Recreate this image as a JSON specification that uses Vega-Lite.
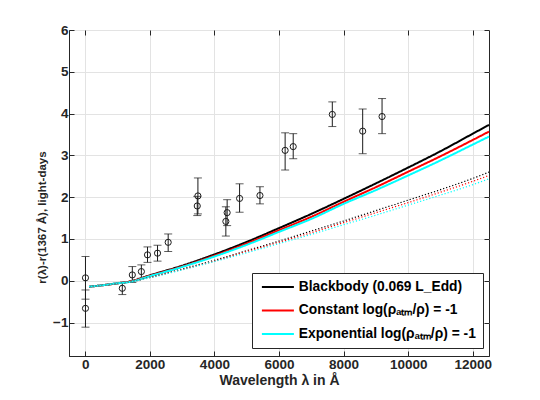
{
  "$schema": "https://vega.github.io/schema/vega-lite/v6.json",
  "width": 420,
  "height": 326,
  "autosize": {"type": "none"},
  "padding": {"left": 69, "top": 30, "right": 51, "bottom": 44},
  "background": "white",
  "config": {
    "font": "Liberation Sans",
    "view": {"stroke": "#262626", "strokeWidth": 1},
    "axis": {
      "labelFont": "Liberation Sans",
      "labelFontWeight": "bold",
      "labelFontSize": 13.5,
      "labelColor": "#262626",
      "titleFont": "Liberation Sans",
      "titleFontWeight": "bold",
      "titleFontSize": 14,
      "titleColor": "#262626",
      "domainColor": "#262626",
      "tickColor": "#262626",
      "tickSize": -5,
      "gridColor": "#e3e3e3",
      "labelFlush": false,
      "labelOverlap": false
    }
  },
  "datasets": {
    "curves": [
      {"lambda": 120, "r": -0.14, "model": "Blackbody (0.069 L_Edd)", "kind": "solid"},
      {"lambda": 500, "r": -0.11, "model": "Blackbody (0.069 L_Edd)", "kind": "solid"},
      {"lambda": 1000, "r": -0.06, "model": "Blackbody (0.069 L_Edd)", "kind": "solid"},
      {"lambda": 1367, "r": -0.02, "model": "Blackbody (0.069 L_Edd)", "kind": "solid"},
      {"lambda": 2000, "r": 0.13, "model": "Blackbody (0.069 L_Edd)", "kind": "solid"},
      {"lambda": 3000, "r": 0.36, "model": "Blackbody (0.069 L_Edd)", "kind": "solid"},
      {"lambda": 4000, "r": 0.63, "model": "Blackbody (0.069 L_Edd)", "kind": "solid"},
      {"lambda": 5000, "r": 0.93, "model": "Blackbody (0.069 L_Edd)", "kind": "solid"},
      {"lambda": 6000, "r": 1.26, "model": "Blackbody (0.069 L_Edd)", "kind": "solid"},
      {"lambda": 7000, "r": 1.60, "model": "Blackbody (0.069 L_Edd)", "kind": "solid"},
      {"lambda": 8000, "r": 1.96, "model": "Blackbody (0.069 L_Edd)", "kind": "solid"},
      {"lambda": 9000, "r": 2.33, "model": "Blackbody (0.069 L_Edd)", "kind": "solid"},
      {"lambda": 10000, "r": 2.71, "model": "Blackbody (0.069 L_Edd)", "kind": "solid"},
      {"lambda": 11000, "r": 3.10, "model": "Blackbody (0.069 L_Edd)", "kind": "solid"},
      {"lambda": 12000, "r": 3.52, "model": "Blackbody (0.069 L_Edd)", "kind": "solid"},
      {"lambda": 12500, "r": 3.73, "model": "Blackbody (0.069 L_Edd)", "kind": "solid"},

      {"lambda": 120, "r": -0.14, "model": "Constant log(ρₐₜₘ/ρ) = -1", "kind": "solid"},
      {"lambda": 500, "r": -0.11, "model": "Constant log(ρₐₜₘ/ρ) = -1", "kind": "solid"},
      {"lambda": 1000, "r": -0.06, "model": "Constant log(ρₐₜₘ/ρ) = -1", "kind": "solid"},
      {"lambda": 1367, "r": -0.02, "model": "Constant log(ρₐₜₘ/ρ) = -1", "kind": "solid"},
      {"lambda": 2000, "r": 0.12, "model": "Constant log(ρₐₜₘ/ρ) = -1", "kind": "solid"},
      {"lambda": 3000, "r": 0.34, "model": "Constant log(ρₐₜₘ/ρ) = -1", "kind": "solid"},
      {"lambda": 4000, "r": 0.60, "model": "Constant log(ρₐₜₘ/ρ) = -1", "kind": "solid"},
      {"lambda": 5000, "r": 0.89, "model": "Constant log(ρₐₜₘ/ρ) = -1", "kind": "solid"},
      {"lambda": 6000, "r": 1.21, "model": "Constant log(ρₐₜₘ/ρ) = -1", "kind": "solid"},
      {"lambda": 7000, "r": 1.53, "model": "Constant log(ρₐₜₘ/ρ) = -1", "kind": "solid"},
      {"lambda": 8000, "r": 1.89, "model": "Constant log(ρₐₜₘ/ρ) = -1", "kind": "solid"},
      {"lambda": 9000, "r": 2.24, "model": "Constant log(ρₐₜₘ/ρ) = -1", "kind": "solid"},
      {"lambda": 10000, "r": 2.61, "model": "Constant log(ρₐₜₘ/ρ) = -1", "kind": "solid"},
      {"lambda": 11000, "r": 2.98, "model": "Constant log(ρₐₜₘ/ρ) = -1", "kind": "solid"},
      {"lambda": 12000, "r": 3.37, "model": "Constant log(ρₐₜₘ/ρ) = -1", "kind": "solid"},
      {"lambda": 12500, "r": 3.57, "model": "Constant log(ρₐₜₘ/ρ) = -1", "kind": "solid"},

      {"lambda": 120, "r": -0.14, "model": "Exponential log(ρₐₜₘ/ρ) = -1", "kind": "solid"},
      {"lambda": 500, "r": -0.11, "model": "Exponential log(ρₐₜₘ/ρ) = -1", "kind": "solid"},
      {"lambda": 1000, "r": -0.06, "model": "Exponential log(ρₐₜₘ/ρ) = -1", "kind": "solid"},
      {"lambda": 1367, "r": -0.03, "model": "Exponential log(ρₐₜₘ/ρ) = -1", "kind": "solid"},
      {"lambda": 2000, "r": 0.11, "model": "Exponential log(ρₐₜₘ/ρ) = -1", "kind": "solid"},
      {"lambda": 3000, "r": 0.33, "model": "Exponential log(ρₐₜₘ/ρ) = -1", "kind": "solid"},
      {"lambda": 4000, "r": 0.58, "model": "Exponential log(ρₐₜₘ/ρ) = -1", "kind": "solid"},
      {"lambda": 5000, "r": 0.86, "model": "Exponential log(ρₐₜₘ/ρ) = -1", "kind": "solid"},
      {"lambda": 6000, "r": 1.17, "model": "Exponential log(ρₐₜₘ/ρ) = -1", "kind": "solid"},
      {"lambda": 7000, "r": 1.48, "model": "Exponential log(ρₐₜₘ/ρ) = -1", "kind": "solid"},
      {"lambda": 8000, "r": 1.84, "model": "Exponential log(ρₐₜₘ/ρ) = -1", "kind": "solid"},
      {"lambda": 9000, "r": 2.17, "model": "Exponential log(ρₐₜₘ/ρ) = -1", "kind": "solid"},
      {"lambda": 10000, "r": 2.52, "model": "Exponential log(ρₐₜₘ/ρ) = -1", "kind": "solid"},
      {"lambda": 11000, "r": 2.88, "model": "Exponential log(ρₐₜₘ/ρ) = -1", "kind": "solid"},
      {"lambda": 12000, "r": 3.26, "model": "Exponential log(ρₐₜₘ/ρ) = -1", "kind": "solid"},
      {"lambda": 12500, "r": 3.45, "model": "Exponential log(ρₐₜₘ/ρ) = -1", "kind": "solid"},

      {"lambda": 120, "r": -0.14, "model": "Blackbody (0.069 L_Edd)", "kind": "dotted"},
      {"lambda": 500, "r": -0.11, "model": "Blackbody (0.069 L_Edd)", "kind": "dotted"},
      {"lambda": 1000, "r": -0.07, "model": "Blackbody (0.069 L_Edd)", "kind": "dotted"},
      {"lambda": 1367, "r": -0.03, "model": "Blackbody (0.069 L_Edd)", "kind": "dotted"},
      {"lambda": 2000, "r": 0.08, "model": "Blackbody (0.069 L_Edd)", "kind": "dotted"},
      {"lambda": 3000, "r": 0.28, "model": "Blackbody (0.069 L_Edd)", "kind": "dotted"},
      {"lambda": 4000, "r": 0.49, "model": "Blackbody (0.069 L_Edd)", "kind": "dotted"},
      {"lambda": 5000, "r": 0.72, "model": "Blackbody (0.069 L_Edd)", "kind": "dotted"},
      {"lambda": 6000, "r": 0.95, "model": "Blackbody (0.069 L_Edd)", "kind": "dotted"},
      {"lambda": 7000, "r": 1.19, "model": "Blackbody (0.069 L_Edd)", "kind": "dotted"},
      {"lambda": 8000, "r": 1.43, "model": "Blackbody (0.069 L_Edd)", "kind": "dotted"},
      {"lambda": 9000, "r": 1.68, "model": "Blackbody (0.069 L_Edd)", "kind": "dotted"},
      {"lambda": 10000, "r": 1.93, "model": "Blackbody (0.069 L_Edd)", "kind": "dotted"},
      {"lambda": 11000, "r": 2.18, "model": "Blackbody (0.069 L_Edd)", "kind": "dotted"},
      {"lambda": 12000, "r": 2.45, "model": "Blackbody (0.069 L_Edd)", "kind": "dotted"},
      {"lambda": 12500, "r": 2.60, "model": "Blackbody (0.069 L_Edd)", "kind": "dotted"},

      {"lambda": 120, "r": -0.14, "model": "Constant log(ρₐₜₘ/ρ) = -1", "kind": "dotted"},
      {"lambda": 500, "r": -0.11, "model": "Constant log(ρₐₜₘ/ρ) = -1", "kind": "dotted"},
      {"lambda": 1000, "r": -0.07, "model": "Constant log(ρₐₜₘ/ρ) = -1", "kind": "dotted"},
      {"lambda": 1367, "r": -0.03, "model": "Constant log(ρₐₜₘ/ρ) = -1", "kind": "dotted"},
      {"lambda": 2000, "r": 0.08, "model": "Constant log(ρₐₜₘ/ρ) = -1", "kind": "dotted"},
      {"lambda": 3000, "r": 0.27, "model": "Constant log(ρₐₜₘ/ρ) = -1", "kind": "dotted"},
      {"lambda": 4000, "r": 0.47, "model": "Constant log(ρₐₜₘ/ρ) = -1", "kind": "dotted"},
      {"lambda": 5000, "r": 0.70, "model": "Constant log(ρₐₜₘ/ρ) = -1", "kind": "dotted"},
      {"lambda": 6000, "r": 0.92, "model": "Constant log(ρₐₜₘ/ρ) = -1", "kind": "dotted"},
      {"lambda": 7000, "r": 1.15, "model": "Constant log(ρₐₜₘ/ρ) = -1", "kind": "dotted"},
      {"lambda": 8000, "r": 1.39, "model": "Constant log(ρₐₜₘ/ρ) = -1", "kind": "dotted"},
      {"lambda": 9000, "r": 1.63, "model": "Constant log(ρₐₜₘ/ρ) = -1", "kind": "dotted"},
      {"lambda": 10000, "r": 1.87, "model": "Constant log(ρₐₜₘ/ρ) = -1", "kind": "dotted"},
      {"lambda": 11000, "r": 2.12, "model": "Constant log(ρₐₜₘ/ρ) = -1", "kind": "dotted"},
      {"lambda": 12000, "r": 2.38, "model": "Constant log(ρₐₜₘ/ρ) = -1", "kind": "dotted"},
      {"lambda": 12500, "r": 2.52, "model": "Constant log(ρₐₜₘ/ρ) = -1", "kind": "dotted"},

      {"lambda": 120, "r": -0.14, "model": "Exponential log(ρₐₜₘ/ρ) = -1", "kind": "dotted"},
      {"lambda": 500, "r": -0.11, "model": "Exponential log(ρₐₜₘ/ρ) = -1", "kind": "dotted"},
      {"lambda": 1000, "r": -0.07, "model": "Exponential log(ρₐₜₘ/ρ) = -1", "kind": "dotted"},
      {"lambda": 1367, "r": -0.03, "model": "Exponential log(ρₐₜₘ/ρ) = -1", "kind": "dotted"},
      {"lambda": 2000, "r": 0.07, "model": "Exponential log(ρₐₜₘ/ρ) = -1", "kind": "dotted"},
      {"lambda": 3000, "r": 0.26, "model": "Exponential log(ρₐₜₘ/ρ) = -1", "kind": "dotted"},
      {"lambda": 4000, "r": 0.46, "model": "Exponential log(ρₐₜₘ/ρ) = -1", "kind": "dotted"},
      {"lambda": 5000, "r": 0.67, "model": "Exponential log(ρₐₜₘ/ρ) = -1", "kind": "dotted"},
      {"lambda": 6000, "r": 0.89, "model": "Exponential log(ρₐₜₘ/ρ) = -1", "kind": "dotted"},
      {"lambda": 7000, "r": 1.11, "model": "Exponential log(ρₐₜₘ/ρ) = -1", "kind": "dotted"},
      {"lambda": 8000, "r": 1.34, "model": "Exponential log(ρₐₜₘ/ρ) = -1", "kind": "dotted"},
      {"lambda": 9000, "r": 1.57, "model": "Exponential log(ρₐₜₘ/ρ) = -1", "kind": "dotted"},
      {"lambda": 10000, "r": 1.81, "model": "Exponential log(ρₐₜₘ/ρ) = -1", "kind": "dotted"},
      {"lambda": 11000, "r": 2.05, "model": "Exponential log(ρₐₜₘ/ρ) = -1", "kind": "dotted"},
      {"lambda": 12000, "r": 2.30, "model": "Exponential log(ρₐₜₘ/ρ) = -1", "kind": "dotted"},
      {"lambda": 12500, "r": 2.44, "model": "Exponential log(ρₐₜₘ/ρ) = -1", "kind": "dotted"}
    ],
    "lags": [
      {"lambda": 10, "r": 0.07, "lo": -0.44, "hi": 0.58},
      {"lambda": 10, "r": -0.66, "lo": -1.11, "hi": -0.22},
      {"lambda": 1150, "r": -0.18, "lo": -0.33, "hi": -0.04},
      {"lambda": 1460, "r": 0.14, "lo": -0.04, "hi": 0.34},
      {"lambda": 1740, "r": 0.22, "lo": 0.06, "hi": 0.38},
      {"lambda": 1930, "r": 0.62, "lo": 0.44, "hi": 0.81},
      {"lambda": 2240, "r": 0.66, "lo": 0.47, "hi": 0.85},
      {"lambda": 2570, "r": 0.92, "lo": 0.70, "hi": 1.12},
      {"lambda": 3490, "r": 2.03, "lo": 1.60, "hi": 2.46},
      {"lambda": 3470, "r": 1.79, "lo": 1.56, "hi": 2.02},
      {"lambda": 4395, "r": 1.63, "lo": 1.32, "hi": 1.94},
      {"lambda": 4355, "r": 1.42, "lo": 1.07, "hi": 1.77},
      {"lambda": 4780, "r": 1.97, "lo": 1.64, "hi": 2.32},
      {"lambda": 5410, "r": 2.04, "lo": 1.84, "hi": 2.25},
      {"lambda": 6190, "r": 3.12, "lo": 2.65, "hi": 3.54},
      {"lambda": 6440, "r": 3.21, "lo": 2.92, "hi": 3.52},
      {"lambda": 7650, "r": 3.98, "lo": 3.69, "hi": 4.28},
      {"lambda": 8590, "r": 3.58, "lo": 3.04, "hi": 4.11},
      {"lambda": 9190, "r": 3.93, "lo": 3.52, "hi": 4.36}
    ]
  },
  "resolve": {"axis": {"x": "independent", "y": "independent"}},
  "layer": [
    {
      "data": {"name": "lags"},
      "mark": {"type": "rule", "color": "#1a1a1a", "strokeWidth": 1},
      "encoding": {
        "x": {
          "field": "lambda", "type": "quantitative",
          "scale": {"domain": [-500, 12500], "nice": false, "zero": false},
          "axis": {
            "orient": "bottom",
            "values": [0, 2000, 4000, 6000, 8000, 10000, 12000],
            "format": "d",
            "grid": true,
            "title": "Wavelength λ in Å",
            "labelPadding": 6,
            "titlePadding": 3
          }
        },
        "y": {
          "field": "lo", "type": "quantitative",
          "scale": {"domain": [-1.8, 6], "nice": false, "zero": false},
          "axis": {
            "orient": "left",
            "values": [-1, 0, 1, 2, 3, 4, 5, 6],
            "format": "d",
            "grid": true,
            "title": "r(λ)-r(1367 Å), light-days",
            "titleFontSize": 11.5,
            "titleY": 187,
            "labelPadding": 6,
            "titlePadding": 5
          }
        },
        "y2": {"field": "hi"}
      }
    },
    {
      "data": {"name": "lags"},
      "mark": {"type": "tick", "orient": "horizontal", "color": "#1a1a1a", "size": 8, "thickness": 1},
      "encoding": {
        "x": {
          "field": "lambda", "type": "quantitative",
          "axis": {
            "orient": "top", "values": [0, 2000, 4000, 6000, 8000, 10000, 12000],
            "labels": false, "title": null, "grid": false, "domain": false
          }
        },
        "y": {
          "field": "lo", "type": "quantitative",
          "axis": {
            "orient": "right", "values": [-1, 0, 1, 2, 3, 4, 5, 6],
            "labels": false, "title": null, "grid": false, "domain": false
          }
        }
      }
    },
    {
      "data": {"name": "lags"},
      "mark": {"type": "tick", "orient": "horizontal", "color": "#1a1a1a", "size": 8, "thickness": 1},
      "encoding": {
        "x": {"field": "lambda", "type": "quantitative", "axis": null},
        "y": {"field": "hi", "type": "quantitative", "axis": null}
      }
    },
    {
      "data": {"name": "lags"},
      "mark": {"type": "point", "shape": "circle", "filled": false, "stroke": "#1a1a1a", "strokeWidth": 1, "size": 38, "opacity": 1},
      "encoding": {
        "x": {"field": "lambda", "type": "quantitative", "axis": null},
        "y": {"field": "r", "type": "quantitative", "axis": null}
      }
    },
    {
      "data": {"name": "curves"},
      "mark": {"type": "line", "interpolate": "monotone"},
      "encoding": {
        "x": {"field": "lambda", "type": "quantitative", "axis": null},
        "y": {"field": "r", "type": "quantitative", "axis": null},
        "color": {
          "field": "model", "type": "nominal",
          "scale": {
            "domain": ["Blackbody (0.069 L_Edd)", "Constant log(ρₐₜₘ/ρ) = -1", "Exponential log(ρₐₜₘ/ρ) = -1"],
            "range": ["#000000", "#ff0000", "#00ffff"]
          },
          "legend": {
            "orient": "none",
            "legendX": 183,
            "legendY": 243,
            "title": null,
            "symbolType": "M-1,0H7",
            "symbolSize": 64,
            "symbolStrokeWidth": 2,
            "labelFont": "Liberation Sans",
            "labelFontWeight": "bold",
            "labelFontSize": 13.8,
            "labelColor": "#000000",
            "labelLimit": 400,
            "labelOffset": 26,
            "rowPadding": 8.5,
            "padding": 7,
            "strokeColor": "#262626",
            "fillColor": "white",
            "cornerRadius": 0
          }
        },
        "strokeDash": {
          "field": "kind", "type": "nominal",
          "scale": {"domain": ["solid", "dotted"], "range": [[1, 0], [1.2, 2]]},
          "legend": null
        },
        "strokeWidth": {
          "field": "kind", "type": "nominal",
          "scale": {"domain": ["solid", "dotted"], "range": [2, 1.2]},
          "legend": null
        }
      }
    }
  ]
}
